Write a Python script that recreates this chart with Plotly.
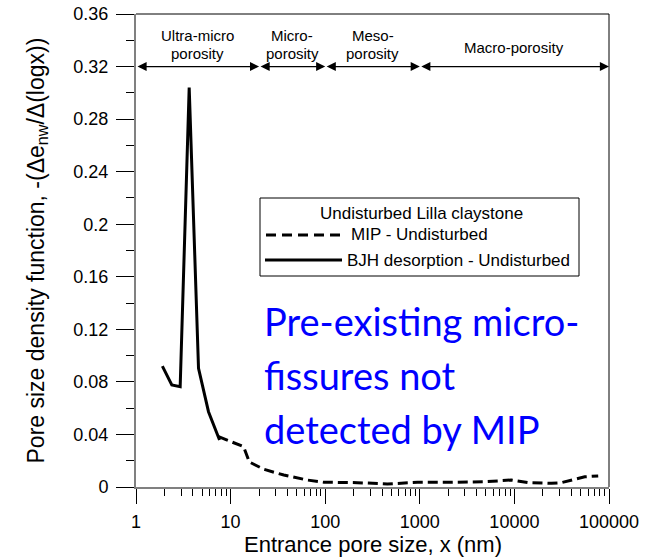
import math
import plotly.graph_objects as go

# BJH desorption, undisturbed Lilla claystone
bjh_size_nm = [1.90, 2.39, 2.93, 3.65, 4.58, 5.84, 7.64]
bjh_density = [0.0920, 0.0776, 0.0763, 0.304, 0.0904, 0.0573, 0.0358]

# Mercury intrusion porosimetry, undisturbed
mip_size_nm = [7.46, 13.7, 15.8, 22.4, 36.5, 64.6, 96.9, 219, 454, 948,
               2130, 4820, 9250, 13900, 24600, 31400, 55400, 76900]
mip_density = [0.0383, 0.0307, 0.0190, 0.0135, 0.0091, 0.0053, 0.0036, 0.0033, 0.0023, 0.0036,
               0.0036, 0.0040, 0.0053, 0.0033, 0.0028, 0.0033, 0.0078, 0.0084]

# Pore classes along the top of the plot
class_bounds_nm = [1, 20, 100, 1000, 100000]
class_labels = [["Ultra-micro", "porosity"], ["Micro-", "porosity"],
                ["Meso-", "porosity"], ["Macro-porosity"]]
class_line_level = 0.32

x_tick_vals = [1, 10, 100, 1000, 10000, 100000]
x_tick_text = ["1", "10", "100", "1000", "10000", "100000"]
y_tick_vals = [0, 0.04, 0.08, 0.12, 0.16, 0.2, 0.24, 0.28, 0.32, 0.36]
y_tick_text = ["0", "0.04", "0.08", "0.12", "0.16", "0.2", "0.24", "0.28", "0.32", "0.36"]

legend_title = "Undisturbed Lilla claystone"
mip_name = "MIP - Undisturbed"
bjh_name = "BJH desorption - Undisturbed"
note_lines = ["Pre-existing micro-", "fissures not", "detected by MIP"]

FONT = "Liberation Sans, Arial, sans-serif"
W, H = 659, 559
L, R, T, B = 136, 50, 14, 72
PW, PH = W - L - R, H - T - B


def px_x(px):
    return (px - L) / PW


def px_y(py):
    return (T + PH - py) / PH


MIP_DASH = "10px,5px"

fig = go.Figure()
fig.add_trace(go.Scatter(x=mip_size_nm, y=mip_density, mode="lines", name=mip_name,
                         line=dict(color="black", width=3, dash=MIP_DASH)))
fig.add_trace(go.Scatter(x=bjh_size_nm, y=bjh_density, mode="lines", name=bjh_name,
                         line=dict(color="black", width=3)))

annotations = []
shapes = []

# double-headed arrows delimiting the pore classes
for i in range(len(class_bounds_nm) - 1):
    a, b = math.log10(class_bounds_nm[i]), math.log10(class_bounds_nm[i + 1])
    annotations.append(dict(x=b, y=class_line_level, ax=a, ay=class_line_level,
                            xref="x", yref="y", axref="x", ayref="y", text="",
                            showarrow=True, arrowside="end+start", arrowhead=2,
                            startarrowhead=2, arrowsize=1.4, startarrowsize=1.4,
                            arrowwidth=1.3, arrowcolor="black"))
    mid = (a + b) / 2
    lines = class_labels[i]
    rows = [47] if len(lines) == 1 else [36, 54]
    for txt, row in zip(lines, rows):
        annotations.append(dict(x=mid, y=px_y(row), xref="x", yref="paper", text=txt,
                                showarrow=False, xanchor="center", yanchor="middle",
                                font=dict(family=FONT, size=15, color="black")))

# legend box
shapes.append(dict(type="rect", xref="paper", yref="paper", x0=px_x(260), x1=px_x(579),
                   y0=px_y(276), y1=px_y(198), line=dict(color="black", width=1),
                   fillcolor="white", layer="below"))
annotations.append(dict(x=px_x(421), y=px_y(213), xref="paper", yref="paper", text=legend_title,
                        showarrow=False, xanchor="center", yanchor="middle",
                        font=dict(family=FONT, size=17, color="black")))
shapes.append(dict(type="line", xref="paper", yref="paper", x0=px_x(266), x1=px_x(341),
                   y0=px_y(235), y1=px_y(235), line=dict(color="black", width=3, dash="10px,6px")))
annotations.append(dict(x=px_x(349), y=px_y(235), xref="paper", yref="paper", text=mip_name,
                        showarrow=False, xanchor="left", yanchor="middle",
                        font=dict(family=FONT, size=17, color="black")))
shapes.append(dict(type="line", xref="paper", yref="paper", x0=px_x(265), x1=px_x(342),
                   y0=px_y(260), y1=px_y(260), line=dict(color="black", width=3)))
annotations.append(dict(x=px_x(345), y=px_y(260), xref="paper", yref="paper", text=bjh_name,
                        showarrow=False, xanchor="left", yanchor="middle",
                        font=dict(family=FONT, size=17, color="black")))

# note in blue
for txt, row in zip(note_lines, [321, 375, 429]):
    annotations.append(dict(x=px_x(262), y=px_y(row), xref="paper", yref="paper", text=txt,
                            showarrow=False, xanchor="left", yanchor="middle",
                            font=dict(family="Lato, sans-serif", size=38, color="#0000FF")))

# axis titles
annotations.append(dict(x=px_x(37), y=0.5, xref="paper", yref="paper",
                        text="Pore size density function, -(\u0394e<sub>nw</sub>/\u0394(logx))",
                        textangle=-90, showarrow=False, xanchor="center", yanchor="middle",
                        font=dict(family=FONT, size=23, color="black")))
annotations.append(dict(x=0.5, y=px_y(558), xref="paper", yref="paper",
                        text="Entrance pore size, x (nm)", showarrow=False,
                        xanchor="center", yanchor="bottom", borderpad=0,
                        font=dict(family=FONT, size=22, color="black")))

# top and right frame lines
shapes.append(dict(type="line", xref="paper", yref="paper", x0=0, x1=1, y0=1, y1=1,
                   line=dict(color="black", width=1)))
shapes.append(dict(type="line", xref="paper", yref="paper", x0=1, x1=1, y0=0, y1=1,
                   line=dict(color="black", width=1)))

x_minor = [m * 10 ** k for k in range(5) for m in range(2, 10)]
y_minor = [0.02 + 0.04 * k for k in range(9)]

fig.update_layout(
    width=W, height=H, margin=dict(l=L, r=R, t=T, b=B, autoexpand=False),
    paper_bgcolor="white", plot_bgcolor="white", showlegend=False,
    annotations=annotations, shapes=shapes,
    xaxis=dict(type="log", range=[0, 5], tickmode="array", tickvals=x_tick_vals,
               ticktext=x_tick_text, ticks="outside", ticklen=15, tickwidth=1,
               tickcolor="black", showline=True, linecolor="#808080", linewidth=2,
               showgrid=False, zeroline=False, ticklabelstandoff=2,
               tickfont=dict(family=FONT, size=18, color="black"),
               minor=dict(tickmode="array", tickvals=x_minor, ticks="outside", ticklen=7,
                          tickwidth=1, tickcolor="black", showgrid=False)),
    yaxis=dict(range=[0, 0.36], tickmode="array", tickvals=y_tick_vals, ticktext=y_tick_text,
               ticks="outside", ticklen=18, tickwidth=1, tickcolor="black",
               showline=True, linecolor="#808080", linewidth=2, showgrid=False,
               zeroline=False, ticklabelstandoff=4,
               tickfont=dict(family=FONT, size=18, color="black"),
               minor=dict(tickmode="array", tickvals=y_minor, ticks="outside", ticklen=8,
                          tickwidth=1, tickcolor="black", showgrid=False)),
)

fig.write_html("out.html")
